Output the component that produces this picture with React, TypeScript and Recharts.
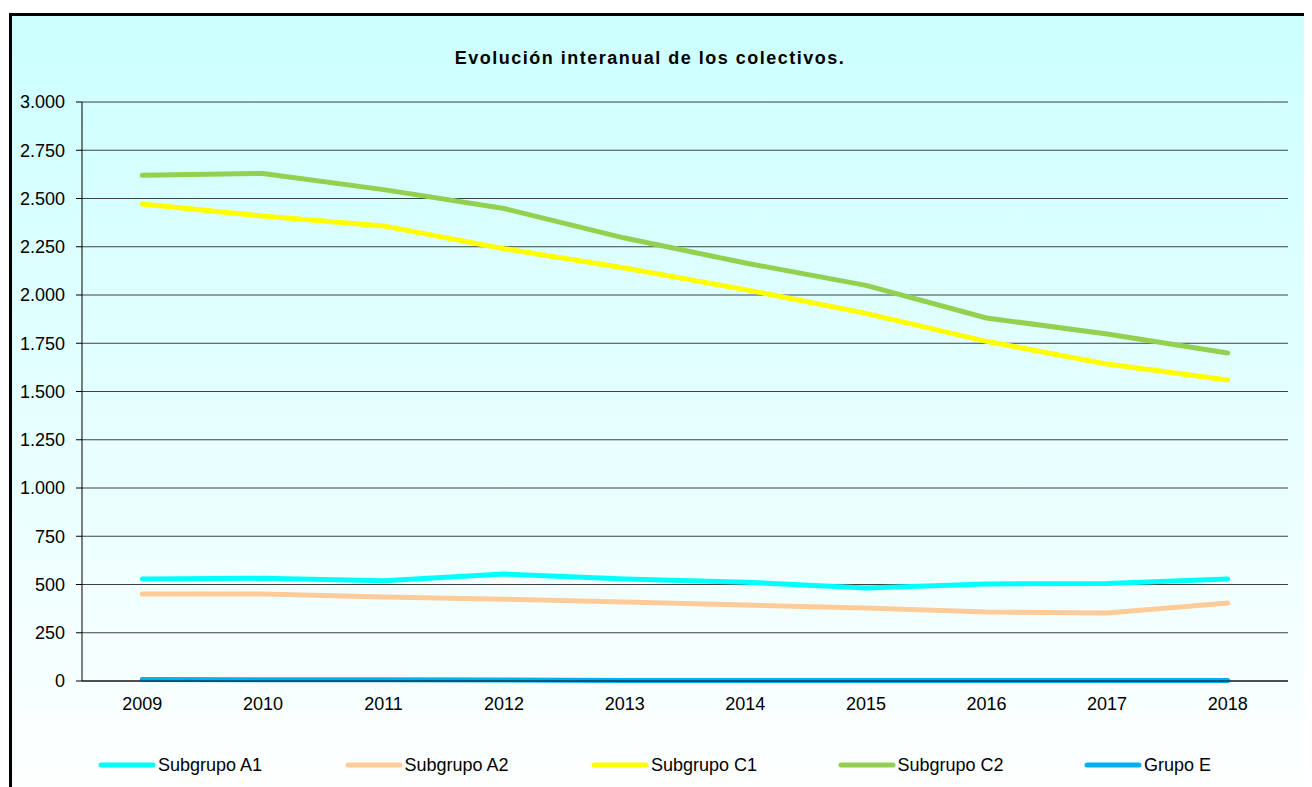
import React from 'react';
import { LineChart, Line, XAxis, YAxis, CartesianGrid, Legend } from 'recharts';

const years = ['2009', '2010', '2011', '2012', '2013', '2014', '2015', '2016', '2017', '2018'];
const subgrupoA1 = [528, 532, 520, 554, 528, 512, 482, 503, 505, 528];
const subgrupoA2 = [451, 451, 435, 424, 409, 394, 378, 358, 352, 404];
const subgrupoC1 = [2472, 2409, 2358, 2240, 2140, 2028, 1905, 1760, 1642, 1560];
const subgrupoC2 = [2620, 2630, 2546, 2448, 2295, 2166, 2050, 1881, 1798, 1699];
const grupoE = [8, 7, 6, 5, 3, 3, 3, 3, 3, 3];
const seriesNames = ['Subgrupo A1', 'Subgrupo A2', 'Subgrupo C1', 'Subgrupo C2', 'Grupo E'];
const yTicks = [0, 250, 500, 750, 1000, 1250, 1500, 1750, 2000, 2250, 2500, 2750, 3000];
const edgeTicks = [0, 1, 2, 3, 4, 5, 6, 7, 8, 9, 10];

const data = years.map((y, i) => ({
  year: y,
  a1: subgrupoA1[i],
  a2: subgrupoA2[i],
  c1: subgrupoC1[i],
  c2: subgrupoC2[i],
  e: grupoE[i],
}));

const FONT = '"Liberation Sans", Arial, sans-serif';
const fmt = (v: number) => {
  const s = String(v);
  return s.length > 3 ? s.slice(0, s.length - 3) + '.' + s.slice(-3) : s;
};

const W = 1290;
const H = 781;

const LegendContent = (props: any) => {
  const payload = [...(props.payload || [])].sort(
    (a: any, b: any) => seriesNames.indexOf(a.value) - seriesNames.indexOf(b.value)
  );
  return (
    <div style={{ display: 'flex', height: 24, paddingLeft: 86, fontFamily: FONT, fontSize: 18, color: '#000', overflow: 'visible' }}>
      {payload.map((p: any) => (
        <div key={p.value} style={{ width: 246.5, flex: 'none', display: 'flex', alignItems: 'center', height: 24 }}>
          <svg width={60} height={10} style={{ flex: 'none' }}>
            <line x1={3} y1={5} x2={55} y2={5} stroke={p.color} strokeWidth={5} strokeLinecap="round" />
          </svg>
          <span style={{ whiteSpace: 'nowrap', lineHeight: '24px' }}>{p.value}</span>
        </div>
      ))}
    </div>
  );
};

export default function App() {
  return (
    <div style={{ position: 'relative', width: 1304, height: 779, overflow: 'hidden' }}>
      <div
        style={{
          position: 'absolute',
          left: 1,
          top: 5,
          width: 1400,
          height: 790,
          border: '3px solid #000',
          background: 'linear-gradient(to bottom, #CCFFFF 0%, #FFFFFF 100%)',
        }}
      >
        <div
          style={{
            position: 'absolute',
            left: 0,
            top: 32,
            width: 1276,
            textAlign: 'center',
            fontFamily: FONT,
            fontWeight: 'bold',
            fontSize: 18,
            letterSpacing: 1.5,
            color: '#000',
          }}
        >
          Evolución interanual de los colectivos.
        </div>
        <LineChart width={W} height={H} data={data} margin={{ top: 86, right: 14, left: 0, bottom: 20 }}>
          <CartesianGrid xAxisId="cat" yAxisId="left" vertical={false} stroke="#404040" />
          <XAxis
            xAxisId="edges"
            type="number"
            domain={[0, 10]}
            ticks={edgeTicks}
            allowDataOverflow
            tick={false}
            axisLine={false}
            tickLine={{ stroke: '#000' }}
            tickSize={5}
            height={0}
          />
          <XAxis
            xAxisId="cat"
            dataKey="year"
            scale="band"
            interval={0}
            axisLine={{ stroke: '#000' }}
            tickLine={false}
            tickSize={5}
            tickMargin={11}
            height={72}
            tick={{ fill: '#000', fontSize: 18, fontFamily: FONT }}
          />
          <YAxis
            yAxisId="left"
            domain={[0, 3000]}
            ticks={yTicks}
            interval={0}
            tickFormatter={fmt}
            width={70}
            axisLine={{ stroke: '#000' }}
            tickLine={{ stroke: '#000' }}
            tickSize={6}
            tickMargin={11}
            tick={{ fill: '#000', fontSize: 18, fontFamily: FONT }}
          />
          <YAxis
            yAxisId="right"
            orientation="right"
            domain={[0, 3000]}
            allowDataOverflow
            tick={false}
            tickLine={false}
            axisLine={{ stroke: '#000' }}
            width={0}
          />
          <Legend
            verticalAlign="bottom"
            wrapperStyle={{ left: 0, width: W }}
            content={<LegendContent />}
          />
          <Line xAxisId="cat" yAxisId="left" type="linear" dataKey="a1" name="Subgrupo A1" stroke="#00FFFF" strokeWidth={5} strokeLinecap="round" strokeLinejoin="round" dot={false} isAnimationActive={false} />
          <Line xAxisId="cat" yAxisId="left" type="linear" dataKey="a2" name="Subgrupo A2" stroke="#FFCC99" strokeWidth={5} strokeLinecap="round" strokeLinejoin="round" dot={false} isAnimationActive={false} />
          <Line xAxisId="cat" yAxisId="left" type="linear" dataKey="c1" name="Subgrupo C1" stroke="#FFFF00" strokeWidth={5} strokeLinecap="round" strokeLinejoin="round" dot={false} isAnimationActive={false} />
          <Line xAxisId="cat" yAxisId="left" type="linear" dataKey="c2" name="Subgrupo C2" stroke="#92D050" strokeWidth={5} strokeLinecap="round" strokeLinejoin="round" dot={false} isAnimationActive={false} />
          <Line xAxisId="cat" yAxisId="left" type="linear" dataKey="e" name="Grupo E" stroke="#00B0F0" strokeWidth={5} strokeLinecap="round" strokeLinejoin="round" dot={false} isAnimationActive={false} />
        </LineChart>
      </div>
    </div>
  );
}
